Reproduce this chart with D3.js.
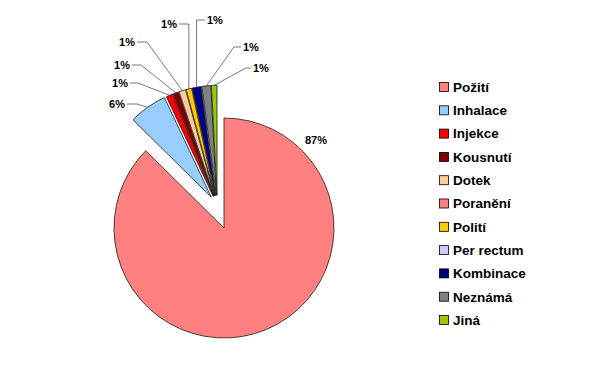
<!DOCTYPE html>
<html>
<head>
<meta charset="utf-8">
<script src="https://cdn.jsdelivr.net/npm/d3@7"></script>
<style>
  html, body { margin: 0; padding: 0; background: #fff; }
  svg { display: block; }
  text { font-family: "Liberation Sans", Arial, sans-serif; font-weight: bold; fill: #000; }
</style>
</head>
<body>
<svg id="chart" width="599" height="378"></svg>
<script>
// ---- data ----
const categories = ["Požití", "Inhalace", "Injekce", "Kousnutí", "Dotek", "Poranění", "Polití", "Per rectum", "Kombinace", "Neznámá", "Jiná"];
const values = [87.4, 5.6, 1.0, 0.8, 1.0, 0, 0.8, 0, 1.3, 1.3, 0.8];
const colors = ["#FF8080", "#99CCFF", "#FF0000", "#800000", "#FFCC99", "#FF8080", "#FFCC00", "#CCCCFF", "#000080", "#808080", "#99CC00"];
const pctLabels = ["87%", "6%", "1%", "1%", "1%", "", "1%", "", "1%", "1%", "1%"];

// ---- label layout (text placement only) ----
const labelLayout = [
  { x: 316, y: 140, anchor: "middle", line: false },
  { x: 125, y: 104, anchor: "end", elbow: 10 },
  { x: 128, y: 83, anchor: "end", elbow: 8 },
  { x: 130, y: 65, anchor: "end", elbow: 9 },
  { x: 135, y: 42, anchor: "end", elbow: 10 },
  null,
  { x: 177, y: 24, anchor: "end", elbow: "v" },
  null,
  { x: 207, y: 20, anchor: "start", elbow: "v" },
  { x: 243, y: 47, anchor: "start", elbow: 7 },
  { x: 253, y: 68, anchor: "start", elbow: 5 }
];

const svg = d3.select("#chart");
const cx = 224, cy = 228, R = 110;
const explodeDist = 33.5;

const pie = d3.pie().sort(null).value(d => d.v).startAngle(0).endAngle(2 * Math.PI);
const data = categories.map((c, i) => ({ c, v: values[i], col: colors[i], lab: pctLabels[i], lay: labelLayout[i] }));
const arcs = pie(data);
const arcGen = d3.arc().innerRadius(0).outerRadius(R);

function offsetOf(a, i) {
  if (i === 0) return [0, 0];
  const bis = (a.startAngle + a.endAngle) / 2 * 180 / Math.PI;
  const dir = (330 + 0.306 * (bis - 300)) * Math.PI / 180;
  return [explodeDist * Math.sin(dir), -explodeDist * Math.cos(dir)];
}

const g = svg.append("g").attr("transform", `translate(${cx},${cy})`);

arcs.forEach((a, i) => {
  if (a.data.v <= 0) return;
  const [ox, oy] = offsetOf(a, i);
  g.append("path")
    .attr("d", arcGen(a))
    .attr("transform", `translate(${ox},${oy})`)
    .attr("fill", a.data.col)
    .attr("stroke", "#1a1a1a")
    .attr("stroke-width", 0.8)
    .attr("stroke-linejoin", "round");
});

// labels + leader lines
arcs.forEach((a, i) => {
  const L = a.data.lay;
  if (!L || !a.data.lab) return;
  svg.append("text")
    .attr("x", L.x).attr("y", L.y)
    .attr("dy", "0.36em")
    .attr("text-anchor", L.anchor)
    .attr("font-size", 11)
    .text(a.data.lab);
  if (L.line === false) return;
  const [ox, oy] = offsetOf(a, i);
  const bis = (a.startAngle + a.endAngle) / 2;
  const px = cx + ox + R * Math.sin(bis);
  const py = cy + oy - R * Math.cos(bis);
  const sx = L.anchor === "end" ? L.x + 2 : L.x - 2;
  let ex;
  if (L.elbow === "v") ex = px;
  else ex = L.anchor === "end" ? sx + L.elbow : sx - L.elbow;
  svg.append("polyline")
    .attr("points", `${sx},${L.y} ${ex},${L.y} ${px},${py}`)
    .attr("fill", "none")
    .attr("stroke", "#555")
    .attr("stroke-width", 0.8);
});

// legend
const ly = d3.scalePoint().domain(categories).range([87, 320]);
const legend = svg.append("g");
categories.forEach((c, i) => {
  const y = ly(c);
  legend.append("rect")
    .attr("x", 439.5).attr("y", y - 4.5)
    .attr("width", 9).attr("height", 9)
    .attr("fill", colors[i])
    .attr("stroke", "#000").attr("stroke-width", 0.8);
  legend.append("text")
    .attr("x", 453).attr("y", y)
    .attr("dy", "0.36em")
    .attr("font-size", 13.5)
    .text(c);
});
</script>
</body>
</html>
